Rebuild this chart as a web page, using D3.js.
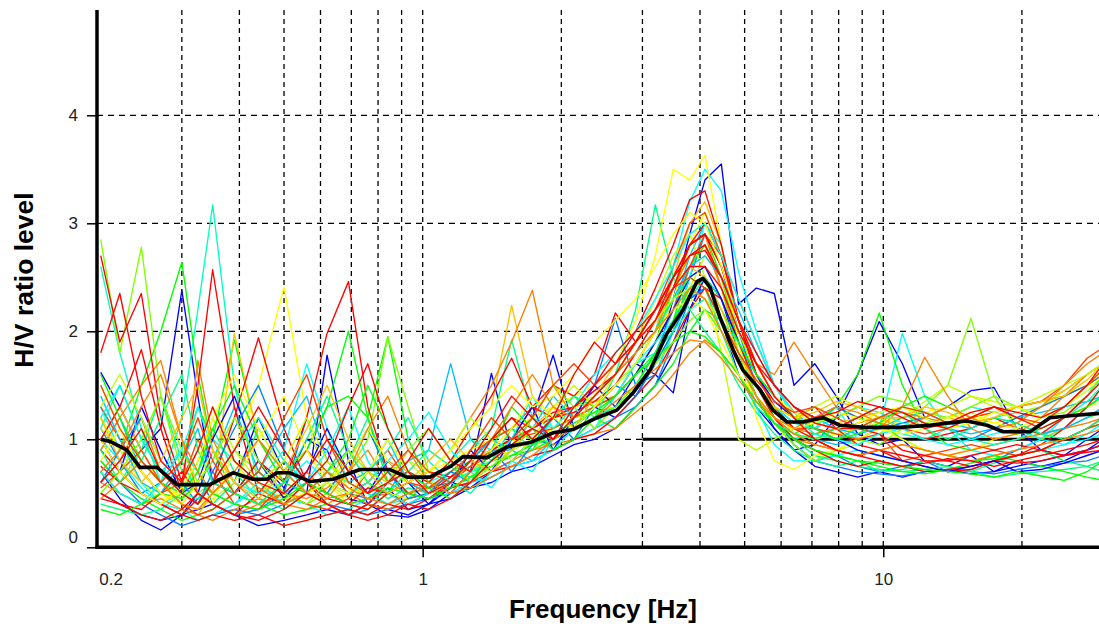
<!DOCTYPE html>
<html>
<head>
<meta charset="utf-8">
<script src="https://cdnjs.cloudflare.com/ajax/libs/d3/7.8.5/d3.min.js"></script>
<style>
  body { margin: 0; background: #fff; }
  text { font-family: "Liberation Sans", Arial, sans-serif; }
</style>
</head>
<body>
<script>
// frequencies shared by every window curve [Hz]
var freq = [0.2, 0.22, 0.245, 0.27, 0.3, 0.325, 0.35, 0.39, 0.44, 0.5,
            0.56, 0.62, 0.69, 0.76, 0.84, 0.93, 1.03, 1.15, 1.27, 1.41,
            1.56, 1.73, 1.92, 2.13, 2.36, 2.62, 2.9, 3.2, 3.5, 3.8,
            4.1, 4.45, 4.85, 5.3, 5.8, 6.4, 7.1, 7.9, 8.8, 9.8,
            11, 12.3, 13.8, 15.5, 17.4, 19.5, 22, 24.7, 27.7, 30];

// colour of each window, in drawing order
var windowColor = ["#0000ff", "#0000ff", "#0000ff", "#0080ff", "#0080ff", "#00bfff",
                   "#00ffff", "#00ffff", "#00ffbf", "#00ff80", "#00ff80",
                   "#00ff00", "#00ff00", "#00ff00", "#80ff00", "#bfff00", "#bfff00",
                   "#ffff00", "#ffff00", "#ffbf00", "#ff8000", "#ff8000", "#ff8000",
                   "#ff4000", "#ff4000", "#ff0000", "#ff0000", "#ff0000", "#ff0000", "#ff0000",
                   "#0000ff", "#0080ff", "#00bfff", "#00ffff", "#00ffff", "#00ffbf", "#00ff80",
                   "#00ff00", "#00ff00", "#80ff00", "#bfff00", "#ffff00", "#ffff00", "#ffbf00",
                   "#ff8000", "#ff8000", "#ff4000", "#ff0000", "#ff0000", "#ff0000"];

// H/V ratio of each window at freq
var windowHV = [
  [1.62,1.3,0.9,1.1,2.38,1.4,0.6,0.5,0.8,0.55, 1.0,0.9,0.45,0.4,0.55,0.35,0.4,0.6,0.55,0.7,
   0.8,1.0,0.95,1.1,1.3, 1.2,1.4,1.7,2.3,2.9, 3.4,3.55,2.25,2.4,2.35,1.5, 1.7,1.4,1.05,0.95,
   1.0,0.8,0.75,0.85,0.7,0.8,0.75,0.8,0.9,1.0],
  [0.7,0.45,0.25,0.16,0.3,0.5,0.9,0.6,1.2,0.7, 0.5,1.78,0.8,0.4,0.3,0.28,0.35,0.5,0.7,1.61,
   0.9,1.2,1.78,1.1,1.3, 1.5,1.7,1.6,1.43,2.2, 2.5,2.1,1.6,1.3,1.1,0.9, 0.95,1.2,1.6,2.09,
   1.7,1.2,1.3,1.45,1.48,1.1,0.9,0.85,1.0,1.1],
  [0.5,0.4,0.3,0.25,0.3,0.35,0.4,0.3,0.2,0.25, 0.3,0.35,0.3,0.4,0.35,0.3,0.4,0.45,0.55,0.6,
   0.7,0.75,0.85,0.95,1.0, 1.1,1.3,1.5,1.8,2.2, 2.5,2.3,1.8,1.4,1.1,0.9, 0.75,0.7,0.65,0.7,
   0.65,0.7,0.72,0.68,0.7,0.75,0.8,0.85,0.9,0.95],
  [1.1,0.8,0.5,0.6,0.9,0.7,0.4,0.3,0.35,0.5, 1.2,0.6,0.5,0.45,0.6,0.7,0.55,0.6,0.8,0.9,
   0.9,1.0,1.2,1.3,1.5, 2.12,1.5,1.6,2.0,2.5, 2.9,2.6,2.0,1.5,1.2,0.95, 0.8,0.85,0.75,0.7,
   0.75,0.8,0.7,0.72,0.8,0.9,1.0,1.1,1.3,1.4],
  [0.8,0.6,0.4,0.3,0.2,0.25,0.3,0.35,0.3,0.4, 0.5,0.4,0.35,0.3,0.35,0.4,0.45,0.5,0.55,0.65,
   0.75,0.8,0.9,1.0,1.1, 1.2,1.3,1.5,1.9,2.3, 2.4,2.1,1.7,1.4,1.15,0.95, 0.8,0.75,0.7,0.68,
   0.66,0.7,0.72,0.7,0.68,0.72,0.75,0.78,0.8,0.85],
  [0.9,1.2,0.7,0.5,0.4,0.6,0.8,1.3,0.7,0.5, 0.6,0.4,0.3,0.35,0.5,0.8,0.9,1.7,1.0,0.8,
   0.9,0.8,1.0,1.1,1.2, 1.3,1.5,1.8,2.2,2.7, 3.0,2.7,2.1,1.6,1.3,1.05, 1.0,0.95,1.0,1.1,
   1.15,1.2,1.1,1.05,1.1,1.2,1.25,1.3,1.35,1.4],
  [1.3,0.9,0.6,0.4,0.5,0.7,1.0,0.8,0.6,0.9, 1.7,1.1,0.6,0.5,0.4,0.5,0.6,0.7,0.65,0.8,
   0.9,1.1,1.0,1.2,1.3, 1.5,1.7,2.0,2.6,3.2, 3.5,3.3,2.55,2.0,1.5,1.2, 1.1,1.3,1.0,1.1,
   1.98,1.4,1.1,0.9,0.85,0.9,1.0,1.2,1.3,1.4],
  [1.0,0.8,0.55,0.4,0.35,0.25,0.3,0.4,0.55,0.45, 0.4,0.3,0.35,0.45,0.4,0.5,0.45,0.5,0.6,0.65,
   0.75,0.8,0.9,1.0,1.1, 1.2,1.4,1.6,2.0,2.5, 3.0,2.8,1.9,1.3,0.95,0.8, 0.8,0.85,0.9,0.85,
   0.8,0.75,0.7,0.75,0.8,0.85,0.9,0.95,1.0,1.05],
  [2.6,1.8,1.1,0.6,1.2,2.2,3.17,1.5,0.6,0.4, 0.5,0.7,0.6,0.5,0.4,0.45,0.6,0.8,1.0,0.9,
   1.0,1.2,1.1,1.2,1.3, 1.4,1.6,1.9,2.2,2.5, 2.6,2.3,1.9,1.5,1.2,1.0, 1.05,1.1,1.0,1.1,
   1.05,1.0,1.1,1.15,1.2,1.25,1.3,1.45,1.6,1.7],
  [0.8,0.6,0.9,1.4,0.8,0.5,0.4,0.6,1.1,0.7, 0.5,0.6,0.8,1.2,0.7,0.5,0.45,0.6,0.9,1.1,
   1.92,1.2,1.0,1.2,1.4, 1.6,2.2,3.17,2.5,2.2, 2.0,1.8,1.5,1.25,1.05,0.9, 0.8,0.75,0.8,0.7,
   0.72,0.8,0.75,0.7,0.78,0.85,0.9,0.8,0.75,0.7],
  [0.4,0.35,0.3,0.35,0.5,0.8,1.1,0.7,0.45,0.35, 0.5,0.7,0.9,0.6,0.45,0.55,0.5,0.6,0.7,0.75,
   0.85,0.95,1.0,1.1,1.2, 1.3,1.45,1.7,2.0,2.3, 2.5,2.3,1.9,1.5,1.2,1.0, 0.85,0.8,0.75,0.72,
   0.7,0.72,0.75,0.7,0.65,0.68,0.7,0.72,0.75,0.8],
  [1.2,0.9,1.5,2.0,2.64,1.6,0.9,0.5,0.4,0.6, 0.9,1.3,1.4,1.2,0.6,0.5,0.55,0.7,0.8,1.0,
   1.1,1.0,1.2,1.4,1.3, 1.4,1.6,1.9,2.4,2.8, 2.9,2.5,1.9,1.5,1.2,1.05, 1.15,1.3,1.6,2.17,
   1.5,1.1,0.95,0.9,0.95,1.0,1.05,1.1,1.2,1.25],
  [0.8,0.6,0.45,0.35,0.25,0.3,0.35,0.5,0.4,0.3, 0.35,0.4,0.5,0.6,0.5,0.45,0.5,0.6,0.7,0.8,
   0.85,0.9,1.0,1.1,1.2, 1.1,1.3,1.5,1.7,2.0, 2.2,2.1,1.7,1.4,1.15,1.0, 0.9,0.85,0.8,0.75,
   0.7,0.68,0.72,0.78,0.85,0.8,0.75,0.7,0.65,0.62],
  [0.7,0.5,0.4,0.6,0.8,1.3,1.0,1.92,1.0,0.7, 0.9,1.3,2.0,1.2,1.95,1.0,0.6,0.55,0.65,0.8,
   0.9,1.0,1.1,1.2,1.25, 1.3,1.5,1.8,2.1,2.6, 2.8,2.5,2.0,1.6,1.3,1.05, 1.0,1.1,1.2,1.15,
   1.0,0.9,0.85,0.8,0.82,0.85,0.9,1.0,1.1,1.15],
  [2.85,1.8,2.78,1.4,0.7,0.5,0.6,0.9,0.7,0.5, 0.4,0.5,0.7,1.0,1.95,1.3,0.7,0.6,0.7,0.85,
   1.0,1.2,1.3,1.1,1.3, 1.5,1.7,2.0,2.4,2.7, 2.8,2.4,1.8,1.4,1.15,0.95, 0.8,0.9,1.0,0.95,
   1.1,1.3,1.5,2.12,1.4,1.1,1.0,1.1,1.3,1.5],
  [1.5,1.1,0.8,0.6,0.45,0.7,1.2,0.8,0.5,0.4, 0.6,0.8,0.55,0.5,0.7,0.6,0.5,0.6,0.75,0.9,
   1.0,0.9,1.1,1.3,1.4, 1.6,1.9,2.3,2.7,2.9, 2.5,1.8,1.0,0.9,1.0,1.1, 1.0,0.9,0.95,1.05,
   1.2,1.35,1.5,1.4,1.3,1.25,1.3,1.4,1.5,1.6],
  [1.1,0.9,0.7,0.5,0.4,0.35,0.45,0.6,0.5,0.7, 0.9,0.6,0.45,0.55,0.7,0.8,0.6,0.55,0.65,0.8,
   0.9,1.0,1.1,1.2,1.25, 1.3,1.5,1.7,2.0,2.4, 2.7,2.5,2.0,1.6,1.3,1.15, 1.1,1.05,1.0,1.1,
   1.1,1.15,1.2,1.3,1.25,1.2,1.3,1.45,1.6,1.7],
  [0.9,0.7,0.5,0.4,0.6,0.5,0.4,0.9,1.5,2.41, 1.2,0.6,0.4,0.35,0.5,0.6,0.7,0.8,0.9,1.0,
   1.1,1.2,1.3,1.4,1.5, 1.7,2.1,2.7,3.5,3.4, 3.63,2.8,1.9,1.2,0.8,0.72, 0.85,0.9,1.0,1.1,
   1.0,0.9,0.85,0.9,1.0,1.05,1.1,1.2,1.3,1.35],
  [1.2,0.9,0.6,0.45,0.5,0.4,0.5,0.7,0.6,0.45, 0.5,0.6,0.75,0.6,0.5,0.45,0.5,0.6,0.7,0.8,
   0.9,1.0,1.1,1.2,1.3, 1.4,1.6,1.9,2.3,2.8, 3.1,2.7,2.1,1.6,1.3,1.05, 1.0,1.05,1.1,1.15,
   1.2,1.25,1.3,1.2,1.15,1.2,1.3,1.4,1.5,1.55],
  [1.0,1.3,0.9,0.6,0.4,0.3,0.5,1.98,1.0,0.6, 0.5,0.4,0.5,0.6,0.8,0.7,0.6,0.8,1.1,1.3,
   2.24,1.4,1.2,1.3,1.35, 1.4,1.7,2.0,2.5,3.0, 3.2,2.8,2.1,1.7,1.4,1.25, 1.2,1.15,1.2,1.25,
   1.3,1.25,1.2,1.15,1.2,1.3,1.35,1.45,1.6,1.7],
  [0.6,0.8,1.2,0.7,0.5,1.73,1.0,0.6,0.4,0.5, 0.7,0.5,0.4,0.45,0.5,0.6,0.7,0.9,1.2,1.5,
   1.9,2.38,1.5,1.2,1.3, 1.4,1.7,2.0,2.4,2.8, 2.9,2.4,2.0,1.7,1.6,1.9, 1.6,1.3,1.2,1.1,
   1.3,1.76,1.4,1.1,1.0,1.05,1.2,1.4,1.6,1.7],
  [0.6,0.5,0.4,0.45,0.35,0.3,0.25,0.35,0.45,0.4, 0.35,0.45,0.5,0.4,0.35,0.45,0.5,0.55,0.6,0.7,
   0.8,0.9,0.95,1.0,1.05, 1.1,1.25,1.4,1.6,1.8, 1.92,1.8,1.6,1.35,1.15,1.0, 0.95,0.9,0.85,0.9,
   0.95,0.9,0.85,0.9,0.95,1.0,1.05,1.1,1.15,1.2],
  [0.9,1.2,1.5,1.73,1.0,0.5,0.4,0.3,0.4,0.5, 0.45,0.55,0.7,0.9,0.6,0.5,0.55,0.65,0.75,0.85,
   0.95,1.1,1.2,1.25,1.35, 1.5,1.8,2.1,2.4,2.7, 2.8,2.4,1.9,1.5,1.25,1.1, 1.05,1.1,1.15,1.2,
   1.25,1.2,1.15,1.2,1.25,1.3,1.35,1.4,1.5,1.6],
  [1.3,1.0,0.7,0.5,0.6,1.0,0.7,0.4,0.35,0.6, 0.9,0.7,0.5,0.6,0.8,0.6,0.55,0.7,0.85,1.0,
   1.1,1.3,1.2,1.3,1.45, 1.6,1.9,2.2,2.6,3.0, 3.1,2.7,2.1,1.6,1.3,1.1, 1.1,1.2,1.3,1.2,
   1.1,1.05,1.1,1.2,1.25,1.3,1.35,1.5,1.75,1.85],
  [0.55,0.7,0.9,0.6,0.4,0.3,0.35,0.5,0.7,0.5, 0.4,0.35,0.45,0.7,0.9,0.6,0.5,0.6,0.75,0.9,
   1.0,1.05,1.1,1.2,1.3, 1.4,1.6,1.9,2.2,2.6, 2.9,2.7,2.3,1.9,1.5,1.25, 1.1,1.05,1.0,1.05,
   0.8,0.85,0.9,0.95,0.9,0.85,0.9,1.0,1.1,1.15],
  [2.7,1.9,2.35,1.2,0.6,1.5,2.57,1.3,0.5,0.4, 0.6,0.5,0.4,0.35,0.5,0.4,0.5,0.65,0.8,0.9,
   1.0,1.1,1.2,1.3,1.5, 1.7,2.0,2.4,2.8,3.22, 3.3,2.8,2.1,1.6,1.3,1.1, 1.0,0.9,0.85,0.9,
   0.85,0.8,0.8,0.85,0.9,0.95,0.9,0.85,0.9,0.95],
  [0.9,0.7,0.5,0.4,0.3,0.45,0.6,0.5,0.8,0.6, 1.2,1.98,2.46,1.3,0.7,0.5,0.45,0.6,0.8,0.9,
   1.0,1.3,1.5,1.4,1.6, 2.17,1.9,2.1,2.4,2.8, 3.0,2.7,2.1,1.6,1.4,1.2, 1.3,1.1,0.95,0.9,
   0.8,0.75,0.7,0.72,0.8,0.85,0.9,1.0,1.1,1.2],
  [1.0,1.3,1.83,1.1,0.5,0.4,0.6,1.2,1.94,1.1, 0.6,0.4,0.3,0.4,0.6,0.7,0.6,0.8,1.1,1.4,
   1.75,1.3,1.2,1.25,1.35, 1.5,1.8,2.1,2.5,2.8, 2.9,2.6,2.1,1.7,1.4,1.2, 1.1,1.0,1.1,1.2,
   1.1,1.0,1.05,1.1,1.2,1.1,1.05,1.2,1.4,1.6],
  [0.75,0.6,0.5,0.4,0.3,0.25,0.3,0.25,0.3,0.2, 0.25,0.3,0.35,0.3,0.4,0.35,0.45,0.55,0.6,0.7,
   0.75,0.85,0.9,1.0,1.05, 1.2,1.4,1.6,1.9,2.2, 2.4,2.3,1.9,1.5,1.2,1.0, 0.9,0.8,0.75,0.8,
   0.75,0.7,0.72,0.75,0.8,0.78,0.8,0.85,0.88,0.9],
  [0.45,0.4,0.35,0.5,0.7,0.5,0.4,0.3,0.5,0.8, 0.6,0.45,0.4,0.55,0.5,0.6,0.7,0.65,0.8,1.0,
   1.2,1.1,1.25,1.3,1.45, 1.6,1.9,2.2,2.5,2.8, 2.9,2.6,2.1,1.7,1.4,1.2, 1.15,1.1,1.1,1.05,
   0.9,0.85,0.8,0.75,0.8,0.85,0.95,1.1,1.3,1.5],
  // second pass of windows
  [1.0,0.7,1.3,0.9,0.5,0.6,1.0,1.4,0.8,0.45, 0.7,1.1,0.7,0.5,0.8,0.6,0.4,0.55,0.9,0.7,
   1.0,1.3,0.9,1.2,1.5, 1.3,1.6,1.9,2.2,2.5, 2.6,2.3,1.9,1.6,1.35,1.2, 1.1,1.0,0.9,0.85,
   0.8,0.75,0.7,0.75,0.8,0.7,0.72,0.78,0.85,0.9],
  [0.6,0.9,1.2,0.8,0.6,0.4,0.7,1.1,1.5,0.9, 0.6,0.5,0.8,1.1,0.7,0.45,0.5,0.7,0.6,0.9,
   0.7,0.95,1.2,1.0,1.3, 1.5,1.4,1.7,2.0,2.3, 2.4,2.1,1.8,1.5,1.3,1.15, 1.2,1.3,1.2,1.1,
   1.15,1.2,1.1,1.0,1.1,1.2,1.3,1.4,1.5,1.6],
  [1.4,1.0,0.6,0.5,0.8,1.1,0.6,0.5,0.7,1.1, 1.4,0.8,0.6,0.7,1.0,0.6,0.5,0.6,0.8,1.0,
   0.9,1.1,1.4,1.2,1.4, 1.6,1.8,2.0,2.3,2.6, 2.7,2.5,2.2,1.8,1.5,1.3, 1.2,1.1,1.05,1.1,
   1.2,1.25,1.15,1.1,1.2,1.15,1.05,1.1,1.2,1.3],
  [0.7,0.5,0.4,0.6,0.9,0.7,0.5,0.4,0.6,0.8, 0.6,0.9,1.3,0.8,0.5,0.4,0.5,0.6,0.7,0.55,
   0.8,0.7,1.0,1.3,1.1, 1.4,1.7,1.9,2.1,2.3, 2.2,2.0,1.7,1.5,1.3,1.15, 1.1,1.2,1.3,1.25,
   1.15,1.1,1.2,1.3,1.25,1.3,1.2,1.3,1.45,1.55],
  [1.2,1.5,1.0,0.7,0.9,1.3,0.9,0.6,0.5,0.6, 0.8,0.6,0.5,0.6,0.8,1.0,1.25,0.9,0.7,0.8,
   1.0,1.4,1.1,1.3,1.6, 1.8,2.0,2.3,2.6,2.9, 3.0,2.7,2.3,1.9,1.5,1.25, 1.1,1.0,0.95,1.05,
   1.1,1.0,0.95,1.0,1.05,1.1,1.0,0.95,1.05,1.15],
  [1.1,1.5,1.0,0.7,0.5,0.45,0.6,0.9,1.2,0.8, 0.5,0.6,0.5,0.7,0.9,1.2,0.8,0.6,0.5,0.7,
   0.9,1.1,0.9,1.1,1.3, 1.5,1.7,1.8,2.0,2.2, 2.3,2.1,1.9,1.6,1.4,1.2, 1.05,1.0,1.1,1.2,
   1.3,1.2,1.1,1.0,0.95,1.0,1.1,1.2,1.35,1.5],
  [0.9,0.6,0.8,1.2,1.6,0.9,0.6,0.5,0.4,0.6, 1.0,1.4,0.9,0.6,0.5,0.7,0.9,0.75,0.6,0.8,
   1.1,0.9,1.2,1.4,1.2, 1.6,1.8,2.0,2.3,2.5, 2.4,2.0,1.6,1.3,1.15,1.05, 1.0,1.1,1.2,1.3,
   1.25,1.1,1.0,1.1,1.2,1.15,1.05,1.0,1.1,1.2],
  [1.6,1.2,0.8,0.6,0.5,0.7,1.1,1.5,1.0,0.6, 0.5,0.7,1.0,1.5,1.1,0.7,0.55,0.45,0.6,0.9,
   1.3,1.1,0.9,1.0,1.2, 1.4,1.6,1.8,2.1,2.4, 2.5,2.2,1.9,1.6,1.4,1.2, 1.1,1.0,1.05,1.15,
   1.3,1.4,1.3,1.2,1.1,1.05,1.1,1.2,1.3,1.4],
  [0.35,0.3,0.4,0.5,0.45,0.6,0.5,0.4,0.35,0.45, 0.6,0.5,0.4,0.45,0.55,0.5,0.45,0.55,0.65,0.75,
   0.85,0.95,1.05,1.15,1.25, 1.4,1.6,1.75,1.9,2.0, 1.95,1.8,1.6,1.35,1.15,1.0, 0.9,0.85,0.8,0.78,
   0.75,0.72,0.7,0.68,0.65,0.7,0.66,0.62,0.7,0.8],
  [0.5,0.7,1.0,1.4,0.9,0.6,0.8,1.2,0.8,0.5, 0.4,0.6,0.9,0.7,0.6,0.9,1.1,0.8,0.6,0.75,
   0.9,1.2,1.5,1.3,1.1, 1.3,1.5,1.7,1.9,2.1, 2.2,2.0,1.7,1.5,1.3,1.2, 1.15,1.2,1.3,1.4,
   1.35,1.25,1.2,1.3,1.4,1.3,1.2,1.25,1.4,1.6],
  [1.3,1.6,1.2,0.8,0.6,0.9,1.3,0.9,0.6,0.8, 1.2,0.8,0.6,0.5,0.6,0.8,0.7,0.9,1.2,1.0,
   0.8,1.0,1.3,1.5,1.3, 1.6,1.9,2.1,2.3,2.4, 2.3,2.1,1.8,1.5,1.3,1.2, 1.3,1.4,1.3,1.2,
   1.1,1.2,1.3,1.4,1.35,1.3,1.4,1.5,1.6,1.7],
  [0.8,1.1,0.7,0.5,0.4,0.6,0.9,0.6,1.0,1.4, 0.9,0.6,0.5,0.7,1.0,0.7,0.5,0.6,0.8,0.9,
   1.1,1.4,1.2,1.1,1.3, 1.5,1.7,2.0,2.2,2.3, 2.2,1.9,1.6,1.4,1.2,1.1, 1.15,1.25,1.2,1.1,
   1.05,1.1,1.2,1.25,1.15,1.1,1.2,1.3,1.45,1.6],
  [1.0,0.7,0.5,0.4,0.55,0.8,1.2,1.6,1.1,0.7, 0.5,0.6,0.8,1.1,0.8,0.6,0.7,0.9,1.1,1.3,
   1.5,1.3,1.4,1.6,1.9, 2.1,2.3,2.6,2.9,3.1, 3.0,2.6,2.1,1.7,1.4,1.25, 1.15,1.1,1.15,1.25,
   1.3,1.2,1.1,1.15,1.25,1.3,1.2,1.3,1.5,1.65],
  [1.2,0.8,0.6,0.8,1.2,1.5,0.9,0.6,0.45,0.7, 1.1,1.5,1.0,0.7,0.5,0.6,0.8,1.0,0.8,0.7,
   0.9,1.1,1.3,1.1,1.4, 1.7,1.9,2.1,2.4,2.6, 2.5,2.2,1.8,1.5,1.3,1.2, 1.25,1.35,1.3,1.2,
   1.2,1.3,1.25,1.15,1.2,1.3,1.35,1.4,1.55,1.7],
  [0.7,0.9,1.3,1.6,1.0,0.7,0.5,0.7,1.0,0.7, 0.5,0.45,0.7,1.1,1.4,0.9,0.6,0.5,0.7,1.0,
   1.3,1.6,1.3,1.2,1.4, 1.6,1.8,2.0,2.2,2.4, 2.3,2.0,1.7,1.4,1.2,1.1, 1.2,1.3,1.25,1.15,
   1.1,1.2,1.3,1.2,1.1,1.15,1.3,1.5,1.7,1.8],
  [0.45,0.6,0.8,0.6,0.4,0.35,0.5,0.7,0.55,0.4, 0.5,0.7,0.55,0.45,0.4,0.5,0.6,0.5,0.55,0.65,
   0.75,0.85,1.0,1.1,1.2, 1.35,1.5,1.65,1.8,1.92, 1.9,1.75,1.55,1.35,1.2,1.05, 0.95,0.9,0.85,0.9,
   0.95,0.9,0.85,0.8,0.85,0.9,0.95,1.0,1.05,1.1],
  [1.5,1.1,0.8,0.6,0.8,1.2,0.8,0.5,0.7,1.2, 1.6,1.0,0.6,0.5,0.7,0.9,0.7,0.6,0.9,1.2,
   1.0,1.2,1.5,1.7,1.5, 1.7,1.9,2.2,2.4,2.5, 2.4,2.1,1.8,1.55,1.35,1.25, 1.3,1.2,1.1,1.2,
   1.3,1.25,1.15,1.2,1.3,1.2,1.15,1.3,1.5,1.65],
  [1.8,2.35,1.4,0.8,0.6,0.9,1.3,0.8,0.6,0.5, 0.7,1.0,0.7,0.5,0.6,0.8,1.1,0.8,0.7,1.0,
   1.2,1.0,1.2,1.6,1.9, 1.7,1.9,2.1,2.4,2.6, 2.6,2.4,2.0,1.7,1.5,1.3, 1.2,1.25,1.35,1.3,
   1.2,1.1,1.15,1.25,1.3,1.2,1.1,1.2,1.4,1.55],
  [0.6,0.8,1.1,0.7,0.5,0.4,0.6,0.9,1.3,0.9, 0.6,0.8,1.3,1.7,1.1,0.7,0.5,0.6,0.8,1.1,
   1.4,1.2,1.0,1.3,1.5, 1.8,2.0,2.2,2.5,2.7, 2.8,2.5,2.1,1.8,1.5,1.3, 1.15,1.1,1.2,1.3,
   1.25,1.15,1.1,1.2,1.3,1.25,1.2,1.3,1.5,1.7],
  [0.5,0.4,0.3,0.25,0.35,0.5,0.4,0.3,0.25,0.35, 0.5,0.4,0.3,0.25,0.3,0.4,0.35,0.45,0.6,0.8,
   0.95,1.1,1.0,1.2,1.4, 1.6,1.9,2.2,2.5,2.7, 2.75,2.5,2.1,1.7,1.4,1.2, 1.0,0.9,0.85,0.8,
   0.75,0.78,0.82,0.8,0.75,0.8,0.85,0.9,0.95,1.0]
];

// average H/V curve (black)
var meanFreq = [0.2, 0.2095, 0.228, 0.2433, 0.265, 0.2928, 0.345, 0.3875, 0.428, 0.459,
                0.4828, 0.515, 0.569, 0.639, 0.731, 0.849, 0.9245, 1.037, 1.09, 1.15,
                1.223, 1.379, 1.524, 1.71, 1.919, 2.12, 2.39, 2.64, 2.862, 3.116,
                3.392, 3.675, 3.941, 4.06, 4.205, 4.42, 4.72, 4.96, 5.4, 5.76,
                6.18, 6.69, 7.4, 8.05, 9.22, 10.87, 12.63, 13.75, 15.2, 16.8,
                18.2, 20.83, 23.0, 25.8, 29.4];
var meanHV = [1.0, 0.98, 0.9, 0.74, 0.74, 0.58, 0.58, 0.69, 0.63, 0.63,
              0.69, 0.69, 0.61, 0.63, 0.72, 0.72, 0.65, 0.65, 0.7, 0.75,
              0.84, 0.83, 0.93, 0.97, 1.06, 1.09, 1.2, 1.27, 1.43, 1.64,
              1.98, 2.2, 2.46, 2.49, 2.41, 2.13, 1.83, 1.64, 1.46, 1.27,
              1.16, 1.16, 1.2, 1.13, 1.11, 1.11, 1.13, 1.15, 1.17, 1.13,
              1.07, 1.07, 1.2, 1.22, 1.24];

var xGrid = [0.3, 0.4, 0.5, 0.6, 0.7, 0.8, 0.9, 1, 2, 3, 4, 5, 6, 7, 8, 9, 10, 20];
var yGrid = [1, 2, 3, 4];
var yTicks = [0, 1, 2, 3, 4];
var xTicks = [0.2, 1, 10];
var refStart = 3;   // solid H/V = 1 line starts here [Hz]

var w = 1099, h = 634;
var plotLeft = 97, plotRight = 1099, plotTop = 10, plotBottom = 547.3;

var svg = d3.select("body").append("svg")
    .attr("width", w)
    .attr("height", h);

var x = d3.scaleLog().domain([0.1963, 29.4]).range([plotLeft, plotRight]);
var y = d3.scaleLinear().domain([0, 5]).range([plotBottom, plotBottom - 5 * 108]);

svg.append("defs").append("clipPath").attr("id", "plot")
  .append("rect")
    .attr("x", plotLeft).attr("y", plotTop)
    .attr("width", plotRight - plotLeft).attr("height", plotBottom - plotTop);

// dashed grid
svg.append("g").selectAll("line")
  .data(xGrid).enter().append("line")
    .attr("x1", d => x(d)).attr("x2", d => x(d))
    .attr("y1", plotTop).attr("y2", plotBottom)
    .attr("stroke", "#000").attr("stroke-width", 1.3)
    .attr("stroke-dasharray", "5,4");

svg.append("g").selectAll("line")
  .data(yGrid).enter().append("line")
    .attr("x1", plotLeft).attr("x2", plotRight)
    .attr("y1", d => y(d)).attr("y2", d => y(d))
    .attr("stroke", "#000").attr("stroke-width", 1.3)
    .attr("stroke-dasharray", "6,5");

// reference line H/V = 1
svg.append("line")
    .attr("x1", x(refStart)).attr("x2", plotRight)
    .attr("y1", y(1)).attr("y2", y(1))
    .attr("stroke", "#000").attr("stroke-width", 3);

var line = d3.line()
    .x(d => x(d[0]))
    .y(d => y(d[1]));

var plot = svg.append("g").attr("clip-path", "url(#plot)");

plot.selectAll("path.win")
  .data(windowHV).enter().append("path")
    .attr("class", "win")
    .attr("d", d => line(d.map((v, i) => [freq[i], v])))
    .attr("fill", "none")
    .attr("stroke", (d, i) => windowColor[i])
    .attr("stroke-width", 1.35)
    .attr("stroke-linejoin", "round");

plot.append("path")
    .attr("d", line(meanHV.map((v, i) => [meanFreq[i], v])))
    .attr("fill", "none")
    .attr("stroke", "#000")
    .attr("stroke-width", 3.6)
    .attr("stroke-linejoin", "round");

// axes
var yAxis = svg.append("g")
    .attr("transform", "translate(" + plotLeft + ",0)")
    .call(d3.axisLeft(y).tickValues(yTicks).tickFormat(d3.format("d")).tickSize(10).tickPadding(9));
yAxis.select(".domain").remove();
yAxis.selectAll(".tick line").attr("stroke", "#000").attr("stroke-width", 1.5);
yAxis.selectAll(".tick text")
    .attr("font-size", 17).attr("fill", "#222")
    .attr("dy", d => d === 0 ? "-0.28em" : "0.32em");

var xAxis = svg.append("g")
    .attr("transform", "translate(0," + plotBottom + ")")
    .call(d3.axisBottom(x).tickValues(xTicks).tickFormat(d => d).tickSize(10).tickPadding(16));
xAxis.select(".domain").remove();
xAxis.selectAll(".tick line")
    .attr("stroke", "#000").attr("stroke-width", 1.5)
    .attr("opacity", d => d === 0.2 ? 0 : 1);
xAxis.selectAll(".tick text")
    .attr("font-size", 17).attr("fill", "#222")
    .attr("text-anchor", d => d === 0.2 ? "start" : "middle")
    .attr("dx", d => d === 0.2 ? -2 : 0);

svg.append("line")
    .attr("x1", plotLeft).attr("x2", plotLeft)
    .attr("y1", plotTop).attr("y2", plotBottom + 1.5)
    .attr("stroke", "#000").attr("stroke-width", 3.5);
svg.append("line")
    .attr("x1", plotLeft - 1.5).attr("x2", plotRight)
    .attr("y1", plotBottom).attr("y2", plotBottom)
    .attr("stroke", "#000").attr("stroke-width", 3.5);

// titles
svg.append("text")
    .attr("x", 603).attr("y", 618)
    .attr("text-anchor", "middle")
    .attr("font-size", 26).attr("font-weight", "bold")
    .text("Frequency [Hz]");

svg.append("text")
    .attr("transform", "translate(33,280) rotate(-90)")
    .attr("text-anchor", "middle")
    .attr("font-size", 26.5).attr("font-weight", "bold")
    .text("H/V ratio level");
</script>
</body>
</html>
